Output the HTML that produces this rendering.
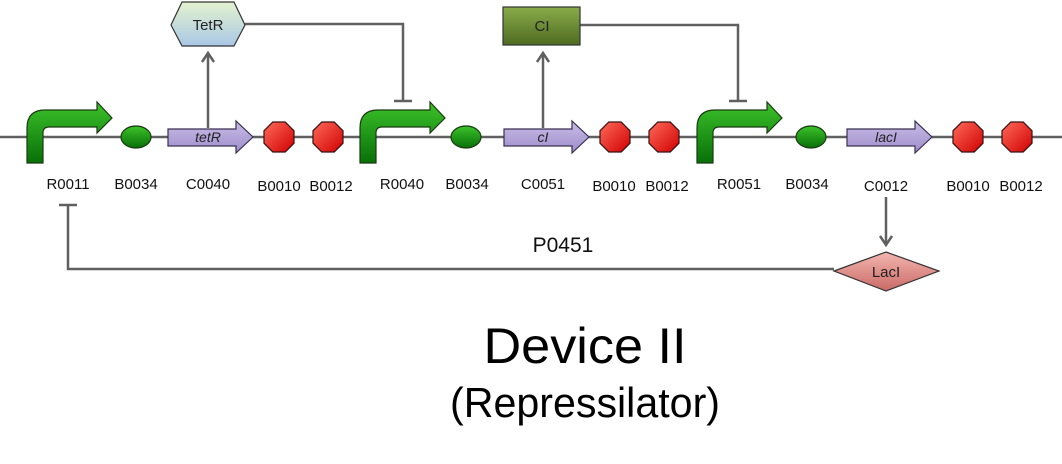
<!DOCTYPE html>
<html><head><meta charset="utf-8"><style>html,body{margin:0;padding:0;background:#fff}svg{display:block}</style></head>
<body>
<svg width="1062" height="464" viewBox="0 0 1062 464" xmlns="http://www.w3.org/2000/svg" font-family="Liberation Sans, sans-serif">
<defs>
<linearGradient id="gG" x1="0" y1="0" x2="0" y2="1"><stop offset="0" stop-color="#3cc22a"/><stop offset="1" stop-color="#087008"/></linearGradient>
<linearGradient id="gR" x1="0" y1="0" x2="1" y2="1"><stop offset="0" stop-color="#ff6a5a"/><stop offset="1" stop-color="#d00000"/></linearGradient>
<linearGradient id="gP" x1="0" y1="0" x2="0" y2="1"><stop offset="0" stop-color="#c9bde6"/><stop offset="1" stop-color="#9e8ccb"/></linearGradient>
<linearGradient id="gT" x1="0" y1="0" x2="0" y2="1"><stop offset="0" stop-color="#e3f2cf"/><stop offset="1" stop-color="#a9c8e6"/></linearGradient>
<linearGradient id="gC" x1="0" y1="0" x2="0" y2="1"><stop offset="0" stop-color="#8aab4a"/><stop offset="1" stop-color="#4e6b20"/></linearGradient>
<linearGradient id="gL" x1="0" y1="0" x2="0" y2="1"><stop offset="0" stop-color="#f4b6b0"/><stop offset="1" stop-color="#c96a66"/></linearGradient>
<g id="prom"><path d="M0,163 L0,128 Q0,110 18,110 L70,110 L70,102 L85,118 L70,133 L70,127 L22,127 Q16,127 16,133 L16,163 Z" fill="url(#gG)" stroke="#1a3a10" stroke-width="1.2"/></g>
<g id="term"><polygon points="-6.2,-15 6.2,-15 15,-6.2 15,6.2 6.2,15 -6.2,15 -15,6.2 -15,-6.2" fill="url(#gR)" stroke="#3a1010" stroke-width="1.2"/></g>
<g id="rbs"><ellipse cx="0" cy="0" rx="15" ry="11" fill="url(#gG)" stroke="#1a3a10" stroke-width="1.2"/></g>
<g id="cds"><polygon points="0,-8 68,-8 68,-16 85,0 68,16 68,9 0,9" fill="url(#gP)" stroke="#3a3050" stroke-width="1.2"/></g>
</defs>
<g stroke="#606060" stroke-width="2.5" fill="none">
<line x1="0" y1="137" x2="1062" y2="137"/>
<polyline points="245,24 403,24 403,100"/><line x1="394" y1="101" x2="412" y2="101"/>
<polyline points="580,25 738,25 738,100"/><line x1="729" y1="101" x2="747" y2="101"/>
<polyline points="834,269 68,269 68,205"/><line x1="59" y1="205" x2="77" y2="205"/>
<line x1="208" y1="128" x2="208" y2="54"/><polyline points="202,62 208,53 214,62"/>
<line x1="543" y1="128" x2="543" y2="54"/><polyline points="537,62 543,53 549,62"/>
<line x1="886" y1="197" x2="886" y2="244"/><polyline points="880,236 886,245 892,236"/>
</g>
<use href="#prom" x="27"/><use href="#prom" x="360"/><use href="#prom" x="697"/>
<use href="#rbs" x="136" y="137"/><use href="#rbs" x="466" y="137"/><use href="#rbs" x="811" y="137"/>
<use href="#cds" x="168" y="137"/><use href="#cds" x="504" y="137"/><use href="#cds" x="847" y="137"/>
<use href="#term" x="279" y="137"/><use href="#term" x="328" y="137"/>
<use href="#term" x="615" y="137"/><use href="#term" x="664" y="137"/>
<use href="#term" x="968" y="137"/><use href="#term" x="1017" y="137"/>
<g font-size="14" font-style="italic" fill="#222" text-anchor="middle">
<text x="208" y="142">tetR</text><text x="543" y="142">cI</text><text x="886" y="142">lacI</text>
</g>
<polygon points="171,25 182,2 234,2 245,25 234,46 182,46" fill="url(#gT)" stroke="#333" stroke-width="1.2"/>
<rect x="503" y="7" width="77" height="38" fill="url(#gC)" stroke="#333" stroke-width="1.2"/>
<polygon points="834,271 886,252 939,271 886,291" fill="url(#gL)" stroke="#333" stroke-width="1.2"/>
<g font-size="15" fill="#222" text-anchor="middle">
<text x="208" y="30">TetR</text><text x="542" y="31">CI</text><text x="886" y="277">LacI</text>
</g>
<g font-size="15" fill="#111" text-anchor="middle">
<text x="68" y="189">R0011</text><text x="136" y="189">B0034</text><text x="208" y="189">C0040</text>
<text x="279" y="191">B0010</text><text x="331" y="191">B0012</text><text x="402" y="189">R0040</text>
<text x="467" y="189">B0034</text><text x="543" y="189">C0051</text><text x="614" y="191">B0010</text>
<text x="667" y="191">B0012</text><text x="739" y="189">R0051</text><text x="807" y="189">B0034</text>
<text x="886" y="191">C0012</text><text x="968" y="191">B0010</text><text x="1021" y="191">B0012</text>
</g>
<text x="563" y="252" font-size="21" text-anchor="middle" fill="#111">P0451</text>
<text x="585" y="363" font-size="50" text-anchor="middle" fill="#000" textLength="203" lengthAdjust="spacingAndGlyphs">Device II</text>
<text x="585" y="417" font-size="42" text-anchor="middle" fill="#000" textLength="270" lengthAdjust="spacingAndGlyphs">(Repressilator)</text>
</svg>
</body></html>
